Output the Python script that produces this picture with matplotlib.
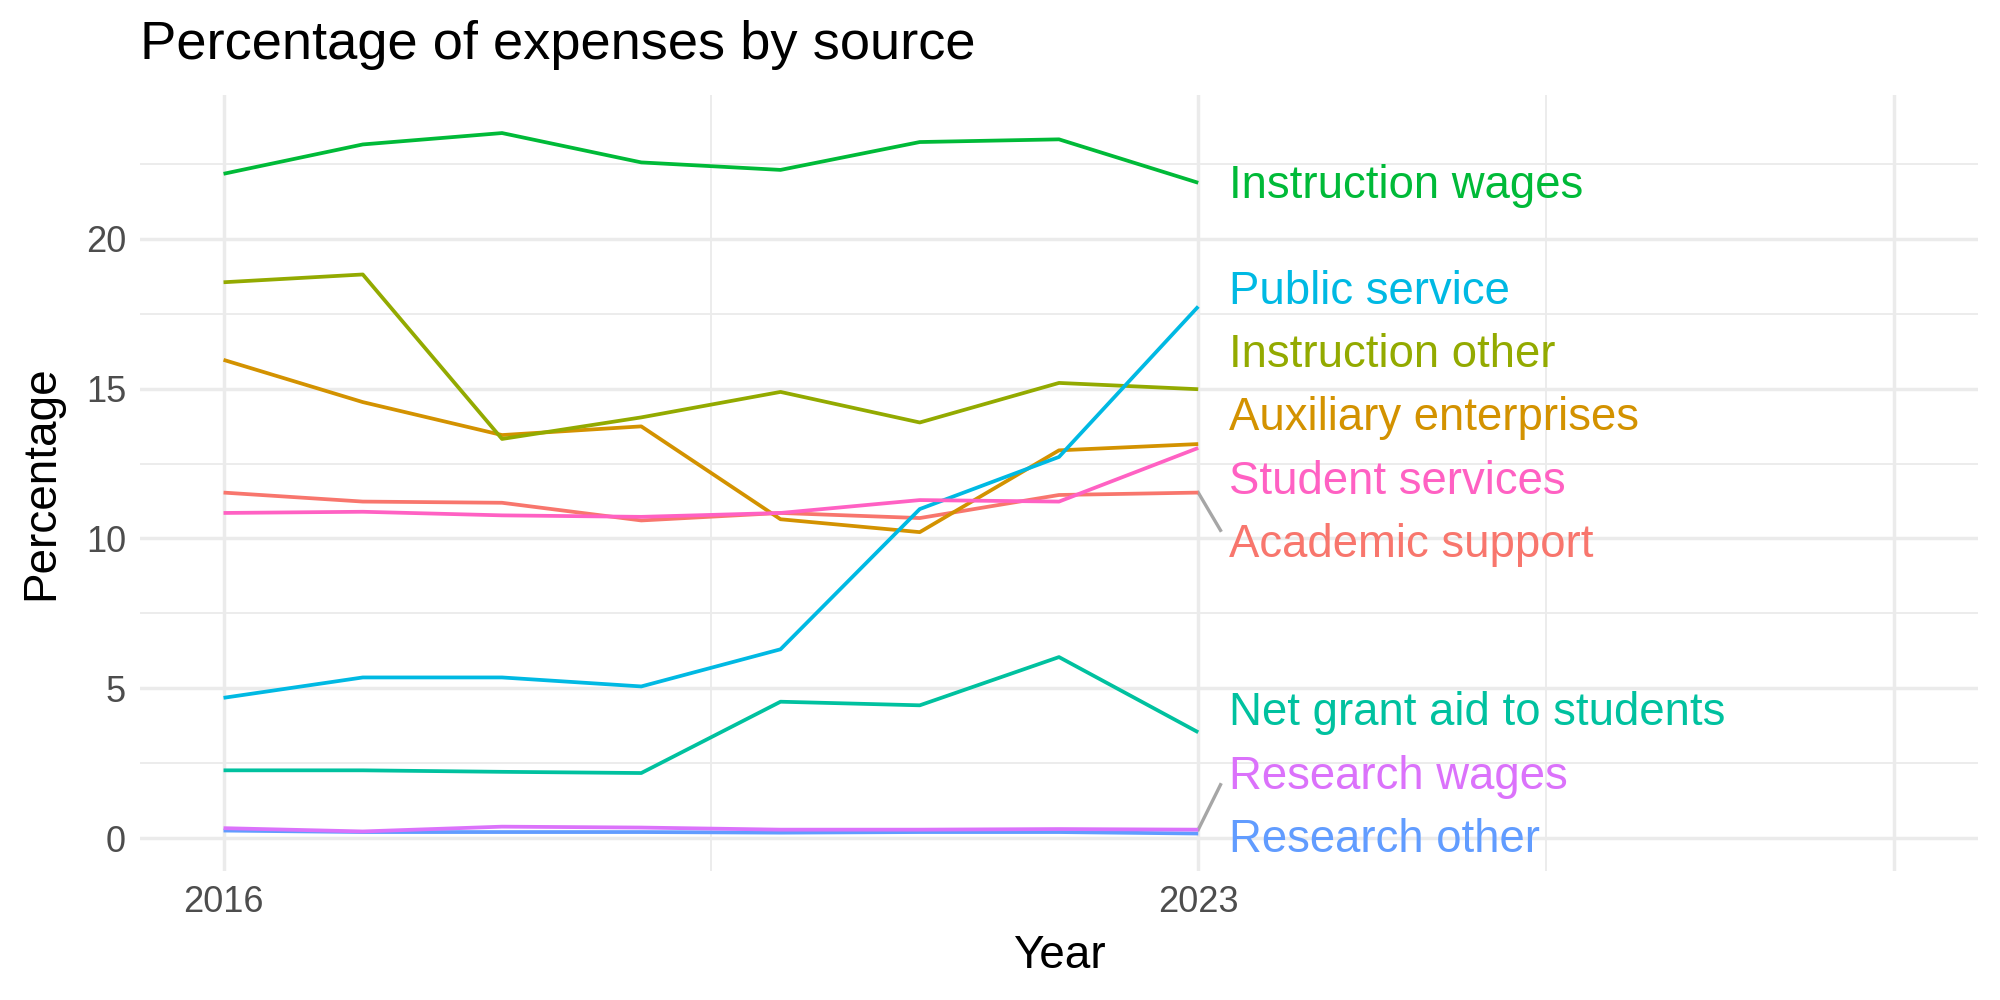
import matplotlib
matplotlib.use("Agg")
import matplotlib.pyplot as plt
from matplotlib.ticker import MultipleLocator, FixedLocator

plt.rcParams["font.family"] = ["Liberation Sans", "DejaVu Sans"]

years = [2016, 2017, 2018, 2019, 2020, 2021, 2022, 2023]

academic_support = [11.53, 11.23, 11.19, 10.60, 10.85, 10.68, 11.45, 11.53]
auxiliary_enterprises = [15.96, 14.55, 13.45, 13.74, 10.64, 10.21, 12.94, 13.15]
instruction_other = [18.55, 18.81, 13.32, 14.04, 14.89, 13.87, 15.19, 14.98]
instruction_wages = [22.17, 23.15, 23.53, 22.55, 22.30, 23.23, 23.32, 21.87]
net_grant_aid = [2.26, 2.26, 2.21, 2.17, 4.55, 4.43, 6.04, 3.53]
public_service = [4.68, 5.36, 5.36, 5.06, 6.30, 10.98, 12.72, 17.74]
research_other = [0.25, 0.20, 0.20, 0.20, 0.18, 0.20, 0.20, 0.15]
research_wages = [0.33, 0.22, 0.38, 0.35, 0.28, 0.28, 0.30, 0.28]
student_services = [10.85, 10.89, 10.77, 10.72, 10.85, 11.28, 11.23, 13.02]

names = ["Academic support", "Auxiliary enterprises", "Instruction other",
         "Instruction wages", "Net grant aid to students", "Public service",
         "Research other", "Research wages", "Student services"]
series = [academic_support, auxiliary_enterprises, instruction_other,
          instruction_wages, net_grant_aid, public_service,
          research_other, research_wages, student_services]
# ggplot default hue palette for 9 levels
colors = ["#F8766D", "#D39200", "#93AA00", "#00BA38", "#00C19F",
          "#00B9E3", "#619CFF", "#DB72FB", "#FF61C3"]
# repelled label heights (text placement, like ggrepel)
label_y = [9.87, 14.09, 16.2, 21.83, 4.26, 18.3, 0.0, 2.13, 11.96]
# only these labels got a leader segment in the original
with_segment = ["Academic support", "Research wages"]

fig = plt.figure(figsize=(10, 5), dpi=200)
ax = fig.add_axes([0.07, 0.129, 0.919, 0.776])

for vals, c in zip(series, colors):
    ax.plot(years, vals, color=c, lw=1.35, solid_capstyle="butt", zorder=3)

x_lab = 2023.22
for name, vals, c, ly in zip(names, series, colors, label_y):
    last = vals[-1]
    if name in with_segment:
        # leader segment from the last point up/down to just short of the label
        end = ly + (0.4 if last > ly else -0.35)
        ax.plot([years[-1], years[-1] + 0.16], [last, end],
                color="#A6A6A6", lw=1.2, zorder=2)
    ax.text(x_lab, ly - 0.08, name, color=c, fontsize=16.4,
            va="center", ha="left")

ax.set_xlim(2015.4, 2028.6)
ax.set_ylim(-1.1, 24.8)
ax.xaxis.set_major_locator(FixedLocator([2016, 2023, 2028]))
ax.xaxis.set_minor_locator(FixedLocator([2019.5, 2025.5]))
ax.set_xticklabels(["2016", "2023", ""])
ax.yaxis.set_major_locator(MultipleLocator(5))
ax.yaxis.set_minor_locator(MultipleLocator(2.5))

ax.grid(True, which="major", color="#EBEBEB", lw=1.25)
ax.grid(True, which="minor", color="#EBEBEB", lw=0.65)
ax.set_axisbelow(True)
for s in ax.spines.values():
    s.set_visible(False)
ax.tick_params(which="both", length=0, labelsize=13, labelcolor="#4D4D4D", pad=5)

ax.set_xlabel("Year", fontsize=16.5, labelpad=5)
ax.set_ylabel("Percentage", fontsize=16.5, labelpad=8)
fig.text(0.07, 0.955, "Percentage of expenses by source", fontsize=19.6,
         ha="left", va="center")

fig.savefig("out.png", dpi=200, facecolor="white")
